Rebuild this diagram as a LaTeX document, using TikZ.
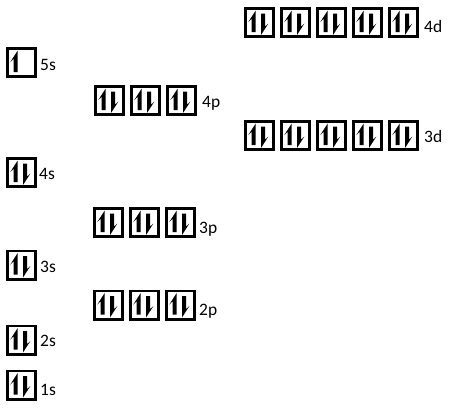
\documentclass[tikz,border=0pt]{standalone}
\usepackage{fontspec}
\setmainfont{Carlito}
\usetikzlibrary{positioning}

\newcommand{\spinup}[1]{%
  \fill[shift={(#1.center)}] (-3.8,-12) -- (-3.8,9.5) -- (-8,9.5) -- (-8,-3.5) -- (-11.2,-0.5) -- cycle;}
\newcommand{\spindown}[1]{%
  \fill[shift={(#1.center)}] (1.5,12.5) -- (1.5,-9) -- (5.7,-9) -- (5.7,4) -- (8.9,1) -- cycle;}
\newcommand{\spinpair}[1]{\spinup{#1}\spindown{#1}}

\begin{document}
\begin{tikzpicture}[x=0.03cm,y=-0.03cm,
                    orbital/.style={draw, line width=0.08cm, minimum size=0.85cm,
                                    inner sep=0pt, outer sep=0pt},
                    shell/.style={anchor=base west, inner sep=0pt,
                                  font=\fontsize{14.9}{17}\selectfont}]
                    \useasboundingbox (0,0) rectangle (450,408);
                    \foreach \i in {1,...,5} {
                        \node[orbital] (4d-\i) at (223.5+36*\i,22.5) {};
                        \spinpair{4d-\i}
                        \node[orbital] (3d-\i) at (223.5+36*\i,135.5) {};
                        \spinpair{3d-\i}
                    }
                    \foreach \i in {1,2,3} {
                        \node[orbital] (4p-\i) at (73.5+36*\i,100.5) {};
                        \spinpair{4p-\i}
                        \node[orbital] (3p-\i) at (72.5+36*\i,222.5) {};
                        \spinpair{3p-\i}
                        \node[orbital] (2p-\i) at (72.5+36*\i,305) {};
                        \spinpair{2p-\i}
                    }
                    \node[orbital] (5s) at (21.5,62.5) {};
                    \spinup{5s}
                    \node[orbital] (4s) at (21.5,172.5) {};
                    \spinpair{4s}
                    \node[orbital] (3s) at (21.5,265) {};
                    \spinpair{3s}
                    \node[orbital] (2s) at (21.5,340) {};
                    \spinpair{2s}
                    \node[orbital] (1s) at (21.5,385) {};
                    \spinpair{1s}
                    \node[shell] (l4d) at (424,32) {4d};
                    \node[shell] (l5s) at (40,70) {5s};
                    \node[shell] (l4p) at (202,107) {4p};
                    \node[shell] (l3d) at (424,142) {3d};
                    \node[shell] (l4s) at (39,179) {4s};
                    \node[shell] (l3p) at (199,233) {3p};
                    \node[shell] (l3s) at (40,272) {3s};
                    \node[shell] (l2p) at (199,315) {2p};
                    \node[shell] (l2s) at (40,346) {2s};
                    \node[shell] (l1s) at (40,395) {1s};
                \end{tikzpicture}
\end{document}
